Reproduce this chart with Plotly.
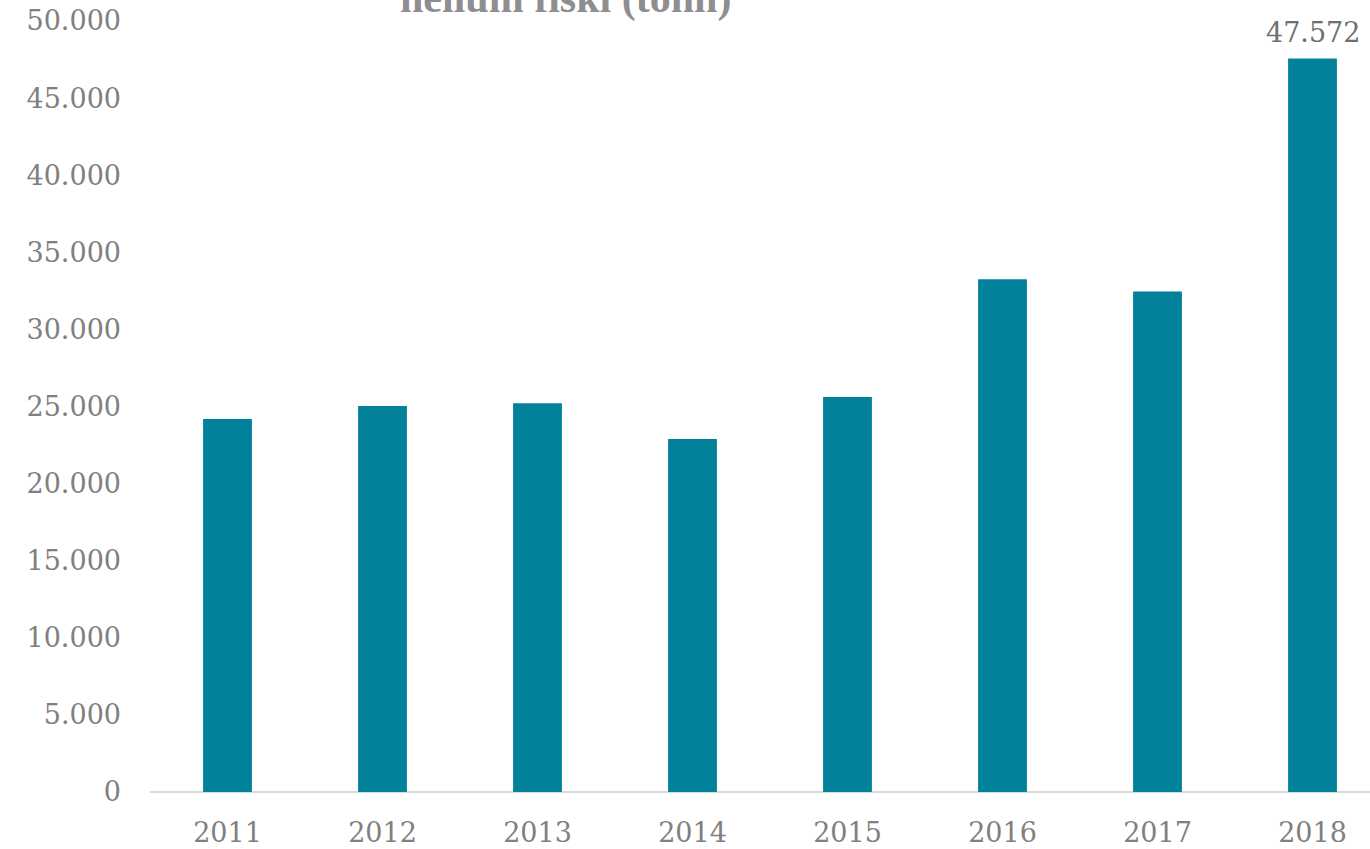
import plotly.graph_objects as go

years = ["2011", "2012", "2013", "2014", "2015", "2016", "2017", "2018"]
tonnes = [24190, 25030, 25210, 22900, 25610, 33260, 32460, 47572]
label_text = "47.572"
y_tick_vals = [0, 5000, 10000, 15000, 20000, 25000, 30000, 35000, 40000, 45000, 50000]
y_tick_text = ["0", "5.000", "10.000", "15.000", "20.000", "25.000", "30.000",
               "35.000", "40.000", "45.000", "50.000"]
title_line = "heilum fiski (tonn)"

W, H = 1370, 849
left, right, top, bottom = 150, 0, 20.5, 56.5
plot_w = W - left - right
cat_px = 155.0
x_end = -0.5 + plot_w / cat_px

fig = go.Figure()
fig.add_trace(go.Bar(
    x=years, y=tonnes,
    marker=dict(color="#01819A", line=dict(width=0)),
    width=0.315,
    hoverinfo="x+y",
))

last = len(years) - 1

fig.update_layout(
    width=W, height=H,
    margin=dict(l=left, r=right, t=top, b=bottom, pad=0),
    plot_bgcolor="white", paper_bgcolor="white",
    showlegend=False,
    font=dict(family="DejaVu Serif", color="#808080"),
    xaxis=dict(
        type="category",
        range=[-0.5, x_end],
        showgrid=False, zeroline=False,
        showline=False,
        ticks="", ticklabelstandoff=22,
        tickfont=dict(family="DejaVu Serif", size=27, color="#808080"),
    ),
    yaxis=dict(
        range=[0, 50000],
        tickvals=y_tick_vals, ticktext=y_tick_text,
        showgrid=False,
        zeroline=True, zerolinecolor="#d9d9d9", zerolinewidth=2,
        showline=False, ticks="",
        ticklabelstandoff=28,
        tickfont=dict(family="DejaVu Serif", size=27, color="#808080"),
    ),
    annotations=[
        dict(
            text="<b>" + title_line + "</b>",
            xref="paper", yref="paper",
            x=(565 - left) / plot_w, y=(H - bottom + 2) / (H - top - bottom),
            xanchor="center", yanchor="middle",
            showarrow=False,
            font=dict(family="Liberation Serif", size=42, color="#8e8e91"),
        ),
        dict(
            text=label_text,
            x=last, y=tonnes[last],
            xref="x", yref="y",
            xanchor="center", yanchor="bottom",
            yshift=8,
            showarrow=False,
            font=dict(family="DejaVu Serif", size=27, color="#6f6f6f"),
        ),
    ],
)

fig.write_html("out.html")
